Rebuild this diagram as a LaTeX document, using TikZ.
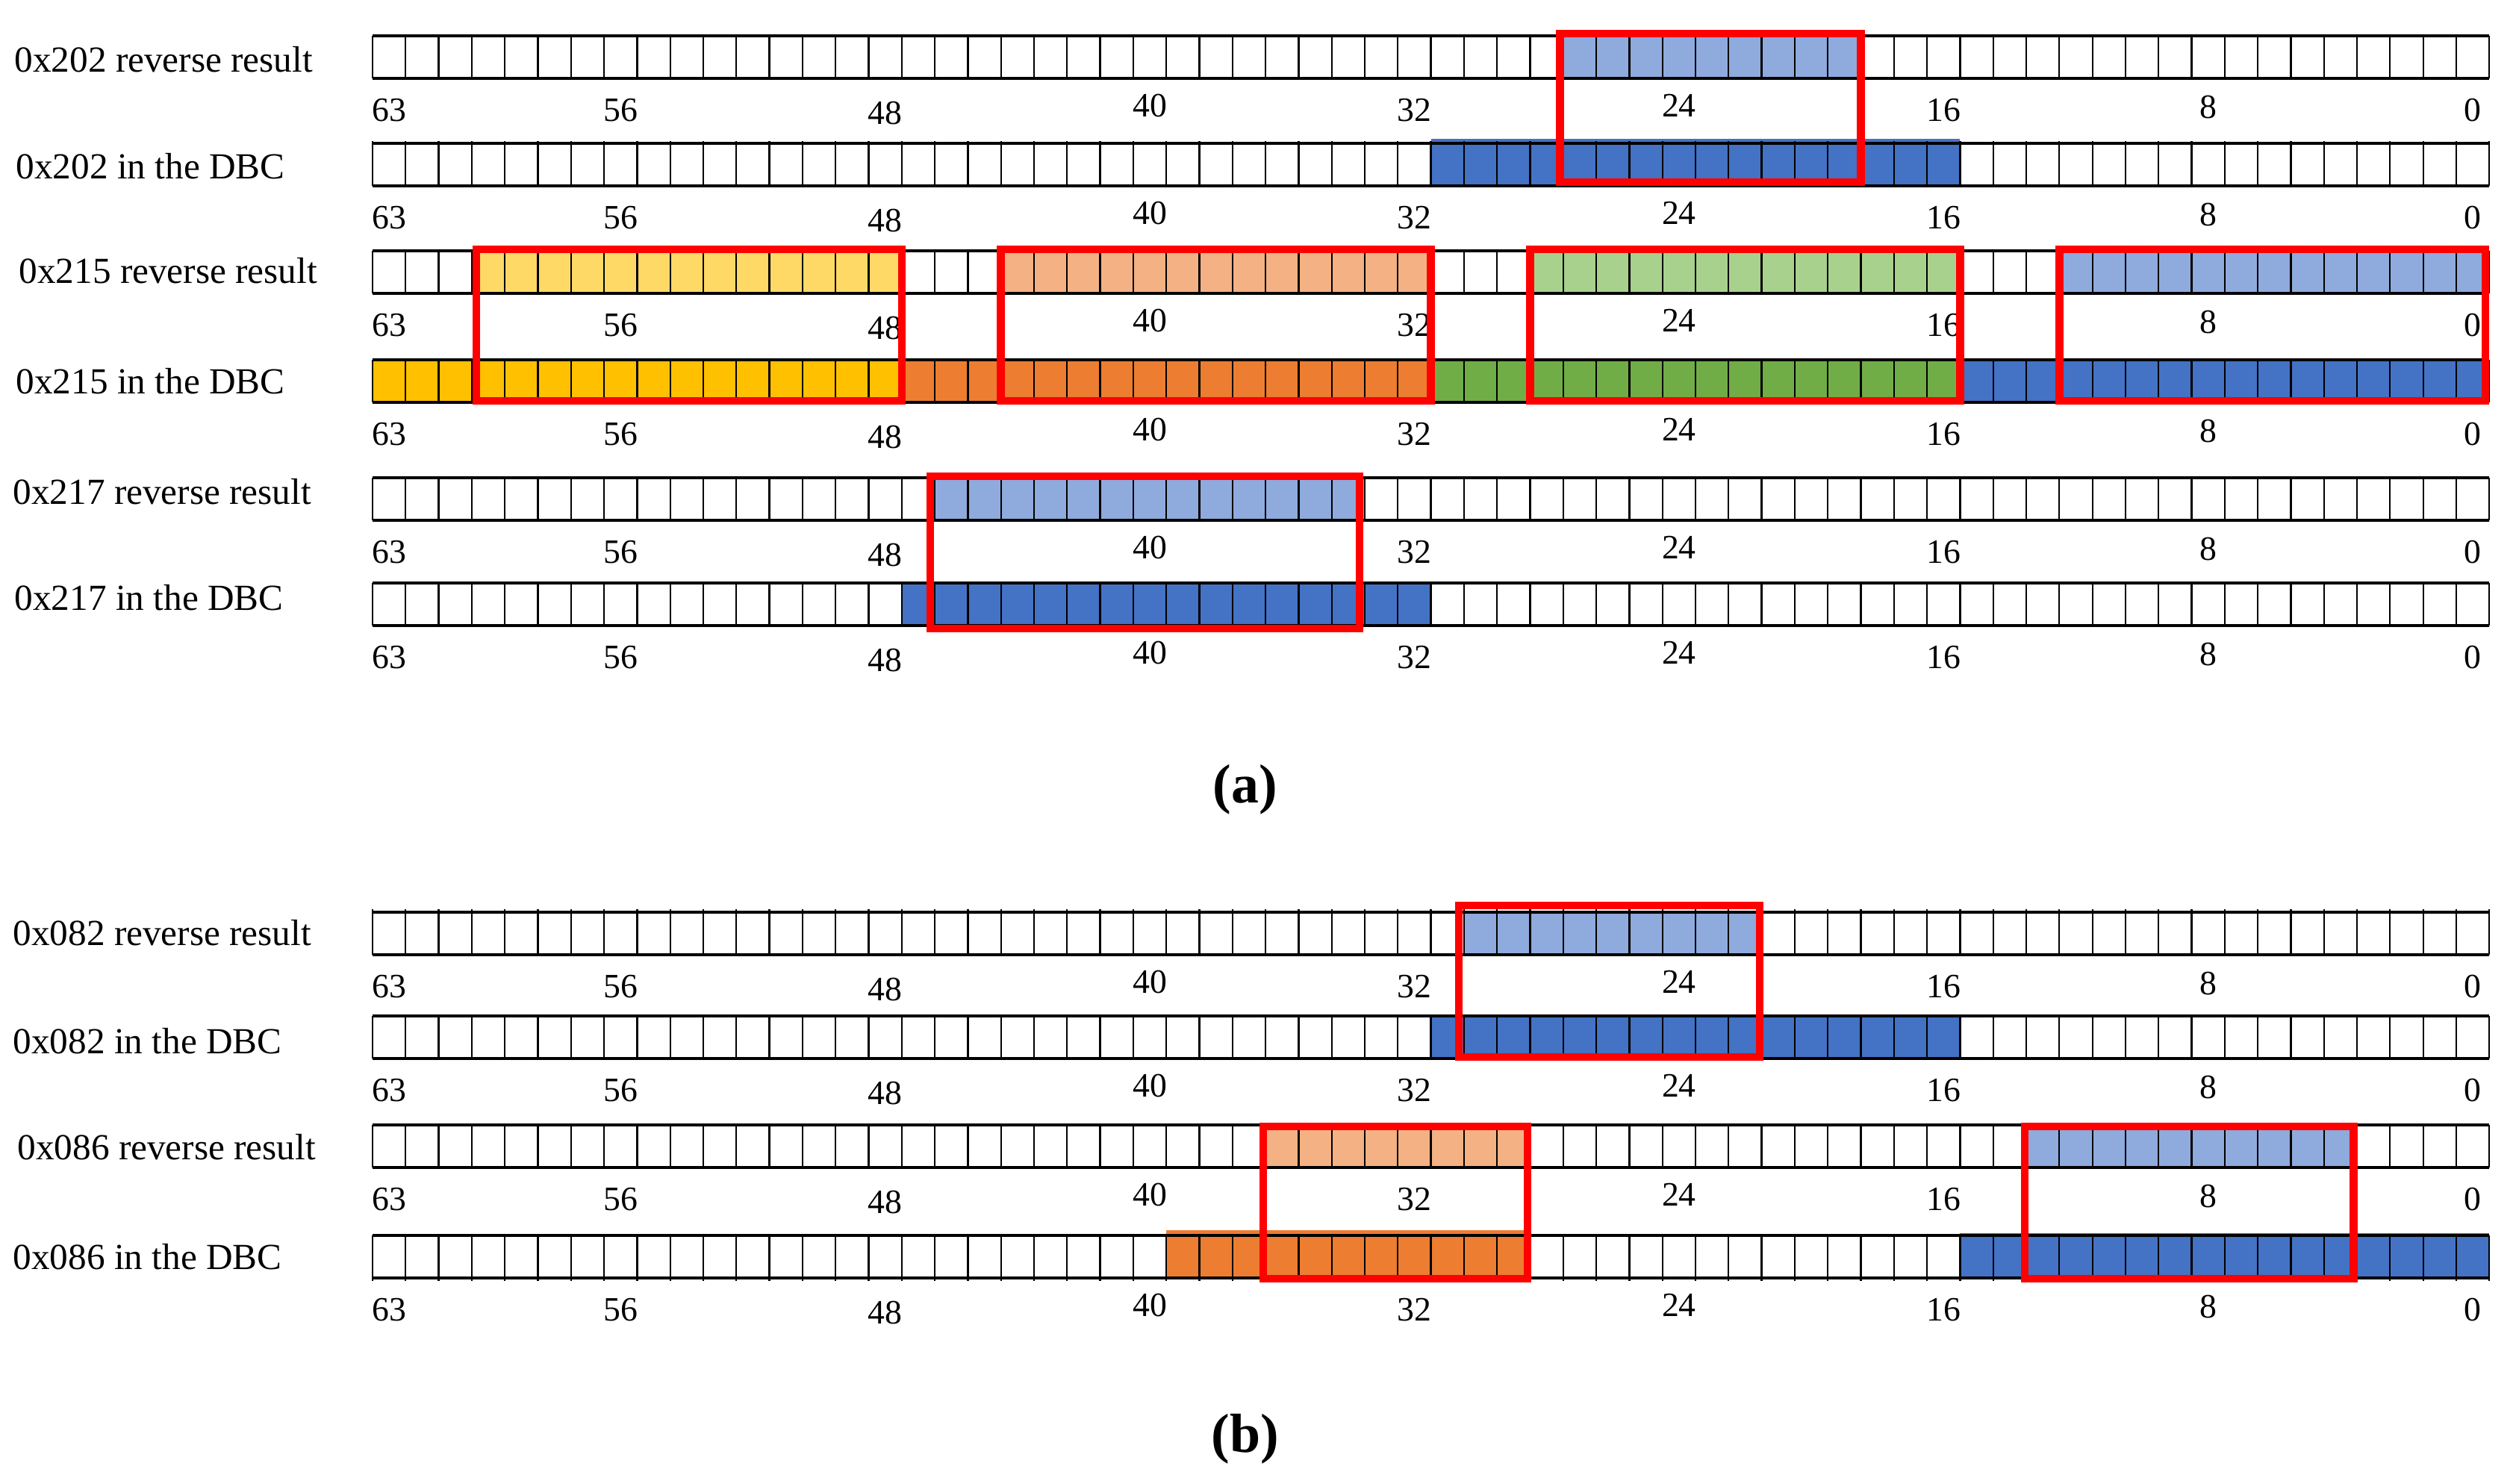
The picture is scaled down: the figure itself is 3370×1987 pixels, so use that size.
\documentclass[tikz,border=0pt]{standalone}
\usepackage{fontspec}
\setmainfont{Liberation Serif}
\definecolor{lblue}{HTML}{8FAADC}
\definecolor{dblue}{HTML}{4472C4}
\definecolor{lgold}{HTML}{FFD966}
\definecolor{dgold}{HTML}{FFC000}
\definecolor{lorange}{HTML}{F4B183}
\definecolor{dorange}{HTML}{ED7D31}
\definecolor{lgreen}{HTML}{A9D18E}
\definecolor{dgreen}{HTML}{70AD47}
\definecolor{boxred}{HTML}{FF0000}
\def\xo{499}
\def\cw{44.3}
\def\rh{57}
% coloured bits: [raise] top, first cell, end cell, colour
\newcommand{\fillbits}[5][0]{\fill[#5] ({\xo+#3*\cw},{#2-#1}) rectangle ({\xo+#4*\cw},{#2+\rh});}
% 64-bit strip: top, tick over top, tick over bottom
\newcommand{\bitstrip}[3]{%
  \foreach \i in {0,...,64}
    \draw[cellline] ({\xo+\i*\cw},{#1-#2}) -- ({\xo+\i*\cw},{#1+\rh+#3});
  \draw[railline] (\xo,#1) -- ({\xo+64*\cw},#1)
                  (\xo,{#1+\rh}) -- ({\xo+64*\cw},{#1+\rh});}
\newcommand{\bitnums}[2]{%
  \foreach \b/\dy in {63/0,56/0,48/4,40/-6,32/0,24/-6,16/0,8/-4,0/0}
    \node[bitnum] (#2-\b) at ({\xo+(63.5-\b)*\cw},{#1+57+\dy}) {\b};}
\newcommand{\redbox}[4]{\draw[hilite] ({\xo+#1*\cw},#3) rectangle ({\xo+#2*\cw},#4);}

\begin{document}
\begin{tikzpicture}[x=0.01cm,y=-0.01cm,
    cellline/.style={line width=0.65pt},
    railline/.style={line width=1.3pt},
    hilite/.style={draw=boxred,line width=3pt},
    rowlabel/.style={font=\fontsize{14}{16}\selectfont,anchor=base west,inner sep=0pt},
    bitnum/.style={font=\fontsize{13}{15}\selectfont,anchor=base,inner sep=0pt},
    partlabel/.style={font=\fontsize{21}{24}\selectfont\bfseries,inner sep=0pt}]
\useasboundingbox (0,0) rectangle (3370,1987);
% (a)
\fillbits{48}{36}{45}{lblue}
\fillbits[6]{192}{32}{48}{dblue}
\fillbits{336}{3}{16}{lgold}
\fillbits{336}{19}{32}{lorange}
\fillbits{336}{35}{48}{lgreen}
\fillbits{336}{51}{64}{lblue}
\fillbits{482}{0}{16}{dgold}
\fillbits{482}{16}{32}{dorange}
\fillbits{482}{32}{48}{dgreen}
\fillbits{482}{48}{64}{dblue}
\fillbits{640}{17}{30}{lblue}
\fillbits{781}{16}{32}{dblue}
% (b)
\fillbits{1222}{33}{42}{lblue}
\fillbits{1361}{32}{48}{dblue}
\fillbits{1507}{27}{35}{lorange}
\fillbits{1507}{50}{60}{lblue}
\fillbits[7]{1655}{24}{35}{dorange}
\fillbits[3]{1655}{48}{64}{dblue}

\foreach \t/\up/\dn/\lx/\ly/\txt [count=\r] in {
    48/0/0/19/9/0x202 reverse result,
    192/3/0/21/10/0x202 in the DBC,
    336/0/0/25/14/0x215 reverse result,
    482/0/0/21/12/0x215 in the DBC,
    640/0/0/17/22/0x217 reverse result,
    781/0/0/19/21/0x217 in the DBC,
    1222/4/0/17/13/0x082 reverse result,
    1361/0/0/17/7/0x082 in the DBC,
    1507/0/0/23/11/0x086 reverse result,
    1655/0/4/17/12/0x086 in the DBC}
{
  \bitstrip{\t}{\up}{\dn}
  \node[rowlabel] (lbl\r) at (\lx,{\t+\rh-\ly}) {\txt};
  \bitnums{\t+\rh}{num\r}
}

\redbox{35.9}{45}{45}{244}
\redbox{3.14}{16}{334}{537}
\redbox{19}{32}{334}{537}
\redbox{35}{48}{334}{537}
\redbox{51}{63.88}{334}{537}
\redbox{16.86}{29.84}{638}{842}
\redbox{32.84}{41.94}{1213}{1416}
\redbox{26.93}{34.92}{1509}{1713}
\redbox{49.95}{59.9}{1509}{1713}

\node[partlabel] (parta) at (1668,1058) {(a)};
\node[partlabel] (partb) at (1668,1928) {(b)};
\end{tikzpicture}
\end{document}
